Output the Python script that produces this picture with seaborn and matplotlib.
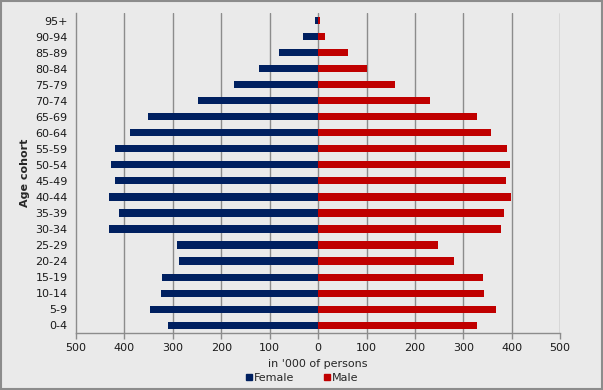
import pandas as pd
import seaborn as sns
import matplotlib.pyplot as plt
from matplotlib.lines import Line2D

# cohortes de arriba hacia abajo
cohorts = ["95+", "90-94", "85-89", "80-84", "75-79", "70-74", "65-69", "60-64",
           "55-59", "50-54", "45-49", "40-44", "35-39", "30-34", "25-29", "20-24",
           "15-19", "10-14", "5-9", "0-4"]
female = [7, 32, 80, 121, 173, 247, 352, 389, 420, 427, 420, 431, 412, 431,
          292, 288, 323, 325, 348, 309]
male = [3, 15, 61, 100, 158, 232, 329, 358, 391, 397, 389, 399, 383, 378,
        248, 281, 341, 343, 368, 329]
xticks = [-500, -400, -300, -200, -100, 0, 100, 200, 300, 400, 500]

df = pd.concat([
    pd.DataFrame({"cohort": cohorts, "value": [-v for v in female], "sex": "Female"}),
    pd.DataFrame({"cohort": cohorts, "value": male, "sex": "Male"}),
], ignore_index=True)

sns.set_theme(style="white")
plt.rcParams["font.family"] = ["DejaVu Sans"]
bg = "#EAEAEA"
grey = "#8C8C8C"
colors = {"Female": "#002060", "Male": "#C00000"}

fig = plt.figure(figsize=(6.03, 3.90), dpi=100, facecolor=bg)
fig.patches.append(plt.Rectangle((0.0015, 0.002), 0.997, 0.996, transform=fig.transFigure,
                                 fill=False, edgecolor=grey, linewidth=1.5))
ax = fig.add_axes([0.126, 0.146, 0.803, 0.821], facecolor=bg)

sns.barplot(data=df, y="cohort", x="value", hue="sex", order=cohorts,
            palette=colors, dodge=False, width=0.44, orient="h", ax=ax,
            legend=False, saturation=1, linewidth=0, zorder=3)

ax.set_xlim(-500, 500)
ax.set_ylim(19.5, -0.5)
ax.set_xticks(xticks)
ax.set_xticklabels([str(abs(t)) for t in xticks])
for t in xticks[1:]:
    ax.axvline(t, color=grey, linewidth=1, zorder=0)

ax.set_yticks(range(len(cohorts)))
ax.set_yticks([i - 0.5 for i in range(len(cohorts) + 1)], minor=True)
ax.tick_params(axis="y", which="major", length=0, labelsize=8, pad=6, colors="#1a1a1a")
ax.tick_params(axis="y", which="minor", length=4, color=grey, width=1)
ax.tick_params(axis="x", which="major", length=4, color=grey, width=1, labelsize=8,
               direction="out", bottom=True)
for lbl in ax.get_xticklabels():
    lbl.set_color("#1a1a1a")

for side in ["top", "right"]:
    ax.spines[side].set_visible(False)
for side in ["left", "bottom"]:
    ax.spines[side].set_color(grey)
    ax.spines[side].set_linewidth(1)

ax.set_ylabel("Age cohort", fontsize=8, fontweight="bold", labelpad=4)
ax.set_xlabel("in '000 of persons", fontsize=8, labelpad=4)

handles = [Line2D([], [], marker="s", linestyle="none", markersize=5,
                  color=colors[s], label=s) for s in ["Female", "Male"]]
fig.legend(handles=handles, loc="lower center", bbox_to_anchor=(0.5, -0.008), ncol=2,
           frameon=False, fontsize=8, handletextpad=0.1, columnspacing=2.5,
           handlelength=0.8)

fig.savefig("out.png", dpi=100, facecolor=bg)
